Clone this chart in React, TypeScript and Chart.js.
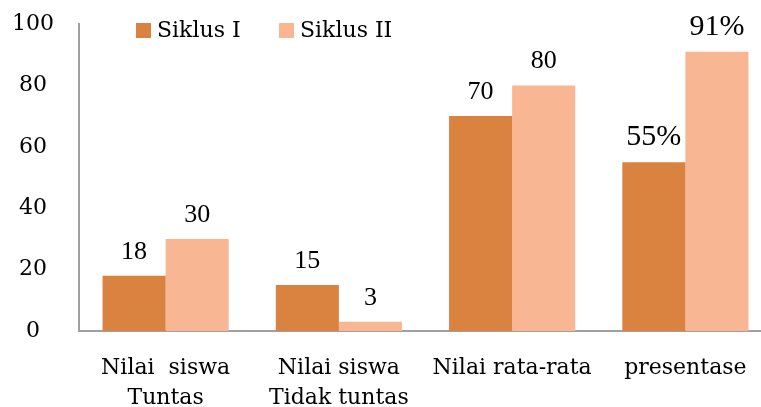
import React, { useEffect, useRef } from "react";
import { Chart, registerables } from "chart.js";

Chart.register(...registerables);

const categories: string[][] = [
  ["Nilai  siswa", "Tuntas"],
  ["Nilai siswa", "Tidak tuntas"],
  ["Nilai rata-rata"],
  ["presentase"],
];
const seriesNames = ["Siklus I", "Siklus II"];
const siklus1 = [18, 15, 70, 55];
const siklus2 = [30, 3, 80, 91];
const valueSuffix = ["", "", "", "%"];
const colors = ["#DA8340", "#F8B692"];
const yTicks = [0, 20, 40, 60, 80, 100];

const SERIF = "'DejaVu Serif', serif";
const TIMES = "'Liberation Serif', 'Times New Roman', serif";

const dataLabelPlugin = {
  id: "dataLabels",
  afterDatasetsDraw(chart: any) {
    const ctx = chart.ctx;
    ctx.save();
    ctx.fillStyle = "#000";
    ctx.textAlign = "center";
    ctx.textBaseline = "alphabetic";
    chart.data.datasets.forEach((ds: any, di: number) => {
      const meta = chart.getDatasetMeta(di);
      meta.data.forEach((bar: any, i: number) => {
        const suffix = valueSuffix[i];
        ctx.font = suffix ? `30px ${TIMES}` : `26px ${TIMES}`;
        ctx.fillText(String(ds.data[i]) + suffix, bar.x, bar.y - 17);
      });
    });
    ctx.restore();
  },
};

const legendPlugin = {
  id: "customLegend",
  afterDraw(chart: any) {
    const ctx = chart.ctx;
    ctx.save();
    ctx.font = `22px ${SERIF}`;
    ctx.textBaseline = "middle";
    ctx.textAlign = "left";
    const starts = [136, 279];
    chart.data.datasets.forEach((ds: any, i: number) => {
      const x = starts[i];
      ctx.fillStyle = ds.backgroundColor;
      ctx.fillRect(x, 23, 15, 15);
      ctx.fillStyle = "#000";
      ctx.fillText(ds.label, x + 21, 31);
    });
    ctx.restore();
  },
};

export default function App() {
  const ref = useRef<HTMLCanvasElement>(null);
  useEffect(() => {
    if (!ref.current) return;
    const chart = new Chart(ref.current, {
      type: "bar",
      data: {
        labels: categories,
        datasets: [
          { label: seriesNames[0], data: siklus1, backgroundColor: colors[0] },
          { label: seriesNames[1], data: siklus2, backgroundColor: colors[1] },
        ],
      },
      options: {
        animation: false,
        responsive: false,
        layout: { autoPadding: false, padding: { top: 24, left: 0, right: 0, bottom: 0 } },
        datasets: {
          bar: { categoryPercentage: 0.728, barPercentage: 1 },
        },
        plugins: {
          legend: { display: false },
          tooltip: { enabled: false },
        },
        scales: {
          x: {
            grid: { display: false, drawTicks: false },
            border: { display: true, color: "#A0A0A0", width: 2 },
            ticks: {
              color: "#000",
              font: { family: SERIF, size: 22, lineHeight: 1.36 },
              padding: 22,
              maxRotation: 0,
              autoSkip: false,
            },
            afterFit(scale: any) {
              scale.height = 76;
              scale.paddingLeft = 0;
              scale.paddingRight = 0;
            },
          },
          y: {
            min: 0,
            max: 100,
            afterBuildTicks(scale: any) {
              scale.ticks = yTicks.map((v) => ({ value: v }));
            },
            grid: { display: false, drawTicks: false },
            border: { display: true, color: "#A0A0A0", width: 2 },
            ticks: {
              color: "#000",
              font: { family: SERIF, size: 22 },
              crossAlign: "center",
              padding: 25,
            },
            afterFit(scale: any) {
              scale.width = 79;
              scale.paddingTop = 0;
              scale.paddingBottom = 0;
            },
          },
        },
      },
      plugins: [dataLabelPlugin, legendPlugin],
    } as any);
    return () => chart.destroy();
  }, []);
  return (
    <div
      style={{
        position: "fixed",
        left: 0,
        top: 0,
        width: 761,
        height: 407,
        overflow: "hidden",
        background: "#fff",
      }}
    >
      <canvas ref={ref} width={772} height={407} style={{ display: "block" }} />
    </div>
  );
}
